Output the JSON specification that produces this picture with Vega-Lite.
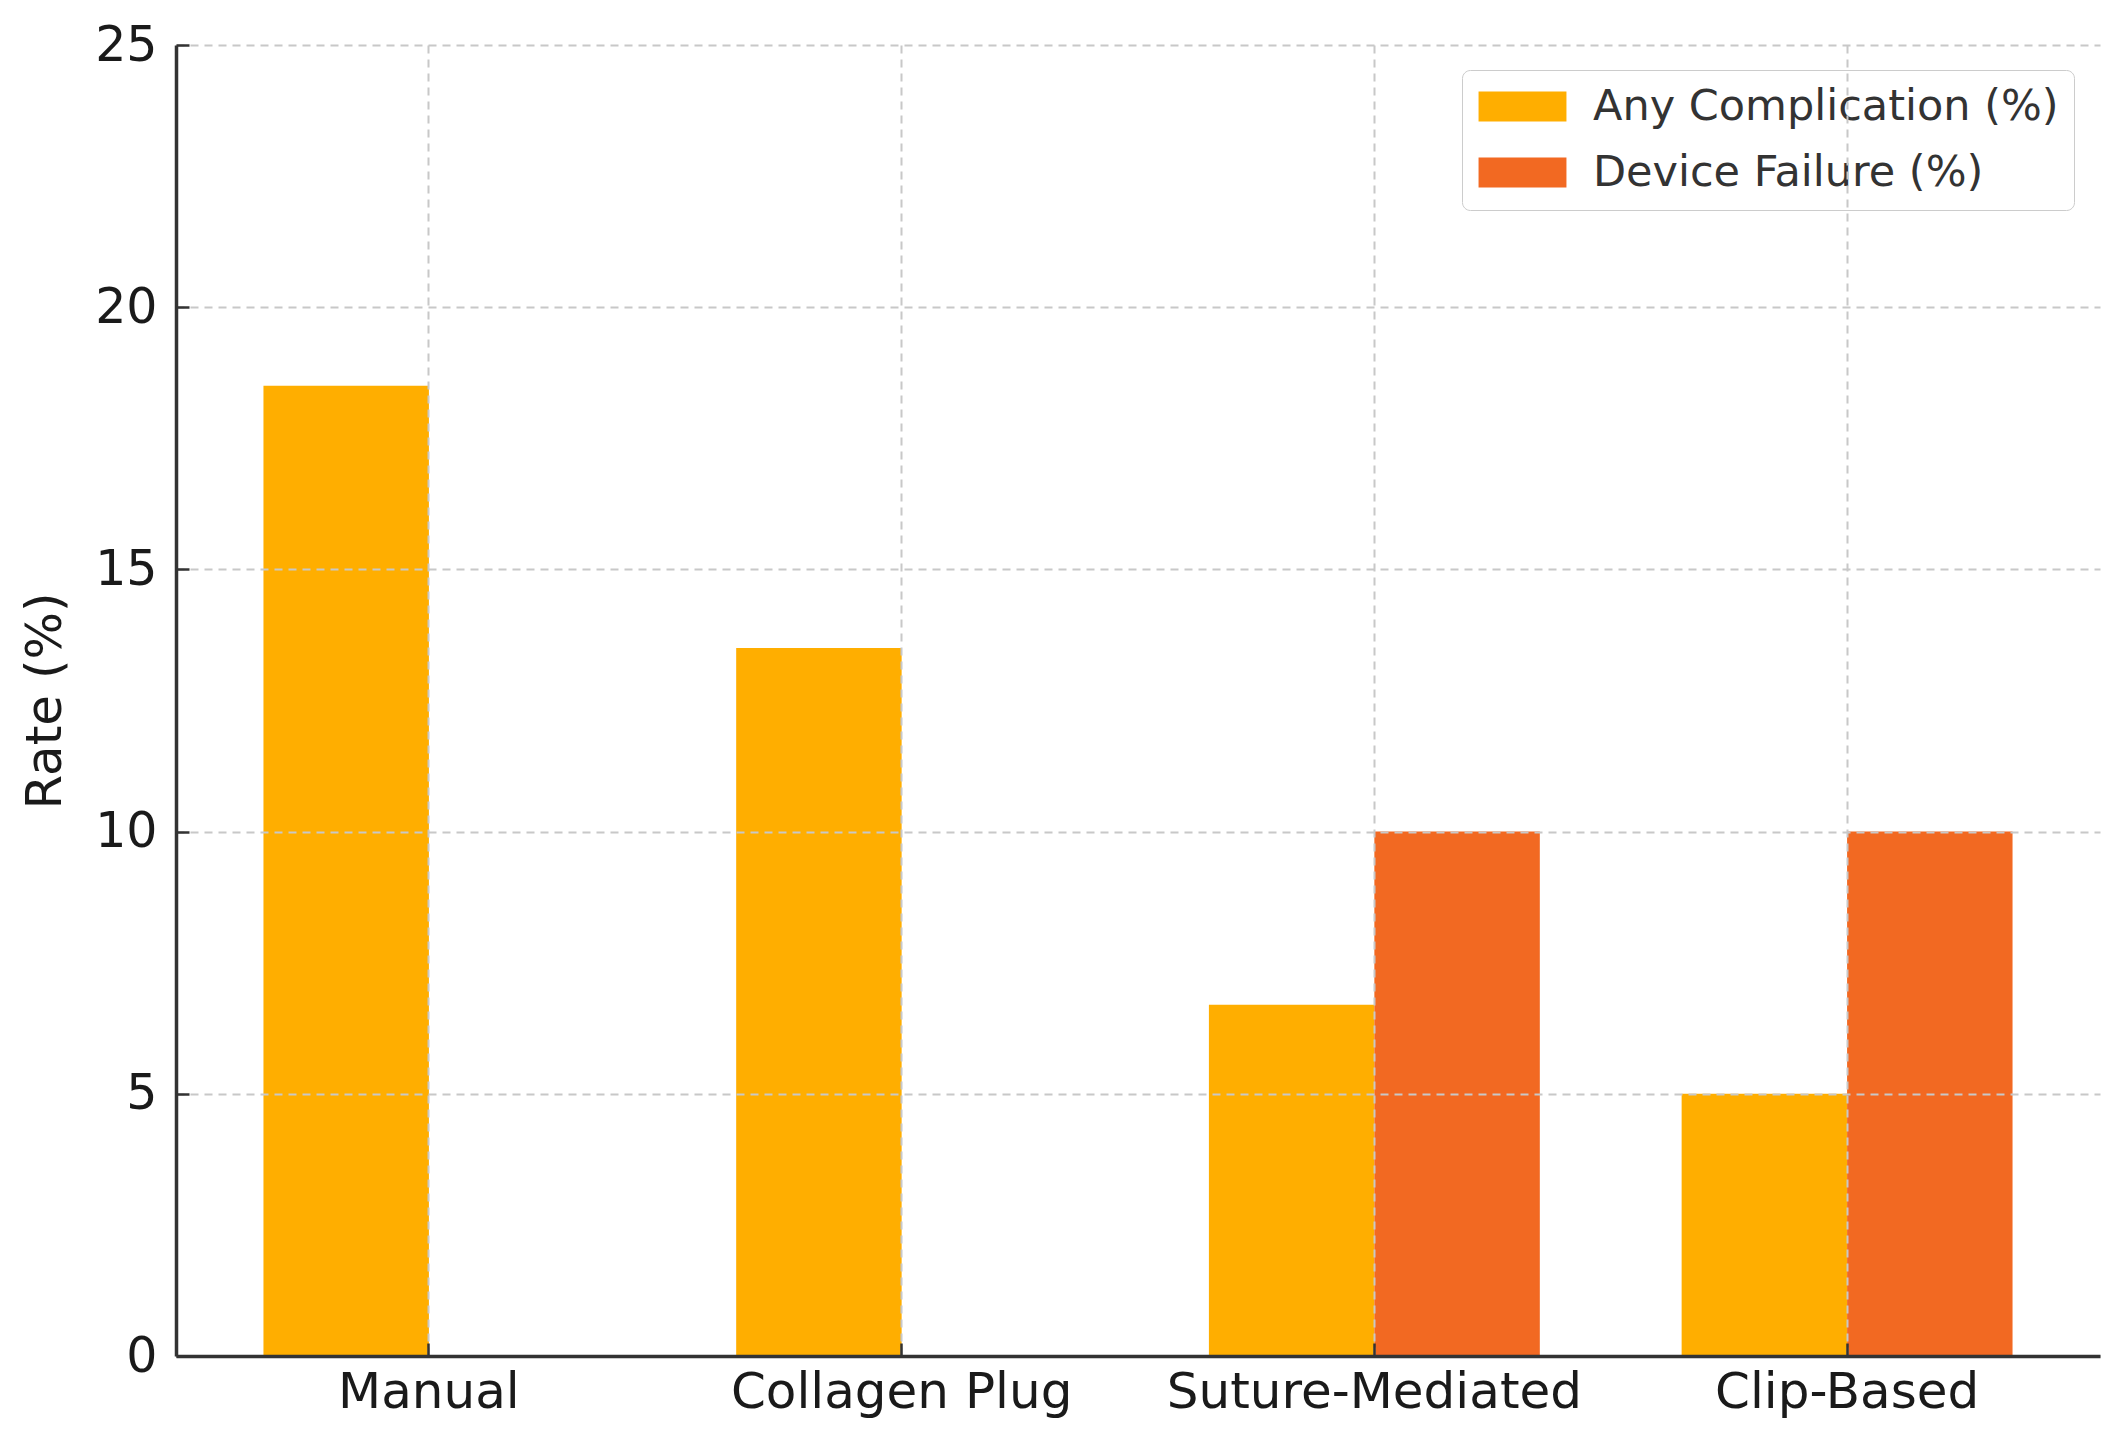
{
  "$schema": "https://vega.github.io/schema/vega-lite/v6.json",
  "width": 1924,
  "height": 1311,
  "autosize": {"type": "none"},
  "padding": {"left": 176, "top": 45, "right": 17, "bottom": 78},
  "background": "white",
  "config": {
    "view": {"stroke": null},
    "font": "DejaVu Sans"
  },
  "data": {
    "values": [
      {"method": "Manual", "series": "Any Complication (%)", "rate": 18.5},
      {"method": "Manual", "series": "Device Failure (%)", "rate": 0},
      {"method": "Collagen Plug", "series": "Any Complication (%)", "rate": 13.5},
      {"method": "Collagen Plug", "series": "Device Failure (%)", "rate": 0},
      {"method": "Suture-Mediated", "series": "Any Complication (%)", "rate": 6.7},
      {"method": "Suture-Mediated", "series": "Device Failure (%)", "rate": 10},
      {"method": "Clip-Based", "series": "Any Complication (%)", "rate": 5},
      {"method": "Clip-Based", "series": "Device Failure (%)", "rate": 10}
    ]
  },
  "mark": {"type": "bar"},
  "encoding": {
    "x": {
      "field": "method",
      "type": "nominal",
      "sort": ["Manual", "Collagen Plug", "Suture-Mediated", "Clip-Based"],
      "scale": {"paddingInner": 0.3, "paddingOuter": 0.185},
      "axis": {
        "title": null,
        "labelAngle": 0,
        "labelFont": "DejaVu Sans",
        "labelFontSize": 50,
        "labelColor": "#1a1a1a",
        "labelPadding": 24,
        "labelLimit": 1000,
        "labelOverlap": false,
        "bandPosition": 0.5,
        "tickSize": -13,
        "tickWidth": 2.5,
        "tickColor": "#333333",
        "domainColor": "#333333",
        "domainWidth": 3.5,
        "grid": true,
        "gridColor": "#c8c8c8",
        "gridWidth": 2,
        "gridDash": [8, 6],
        "zindex": 1
      }
    },
    "xOffset": {
      "field": "series",
      "type": "nominal",
      "sort": ["Any Complication (%)", "Device Failure (%)"],
      "scale": {"paddingInner": 0, "paddingOuter": 0}
    },
    "y": {
      "field": "rate",
      "type": "quantitative",
      "scale": {"domain": [0, 25], "nice": false},
      "axis": {
        "title": "Rate (%)",
        "titleFont": "DejaVu Sans",
        "titleFontSize": 50,
        "titleFontWeight": "normal",
        "titleColor": "#1a1a1a",
        "titlePadding": 24,
        "values": [0, 5, 10, 15, 20, 25],
        "labelFont": "DejaVu Sans",
        "labelFontSize": 49,
        "labelColor": "#1a1a1a",
        "labelPadding": 32,
        "tickSize": -13,
        "tickWidth": 2.5,
        "tickColor": "#333333",
        "domainColor": "#333333",
        "domainWidth": 3.5,
        "grid": true,
        "gridColor": "#c8c8c8",
        "gridWidth": 2,
        "gridDash": [8, 6],
        "zindex": 1
      }
    },
    "color": {
      "field": "series",
      "type": "nominal",
      "sort": ["Any Complication (%)", "Device Failure (%)"],
      "scale": {
        "domain": ["Any Complication (%)", "Device Failure (%)"],
        "range": ["#FFAE00", "#F26922"]
      },
      "legend": {
        "title": null,
        "orient": "none",
        "legendX": 1286,
        "legendY": 25,
        "symbolType": "M-2.93,-1H2.93V1H-2.93Z",
        "symbolSize": 900,
        "symbolOffset": 24,
        "symbolStrokeWidth": 0,
        "symbolOpacity": 1,
        "labelFont": "DejaVu Sans",
        "labelFontSize": 43,
        "labelColor": "#333333",
        "labelOffset": 49,
        "labelLimit": 1000,
        "rowPadding": 22,
        "padding": 15,
        "fillColor": "white",
        "strokeColor": "#cccccc",
        "cornerRadius": 8
      }
    }
  }
}
